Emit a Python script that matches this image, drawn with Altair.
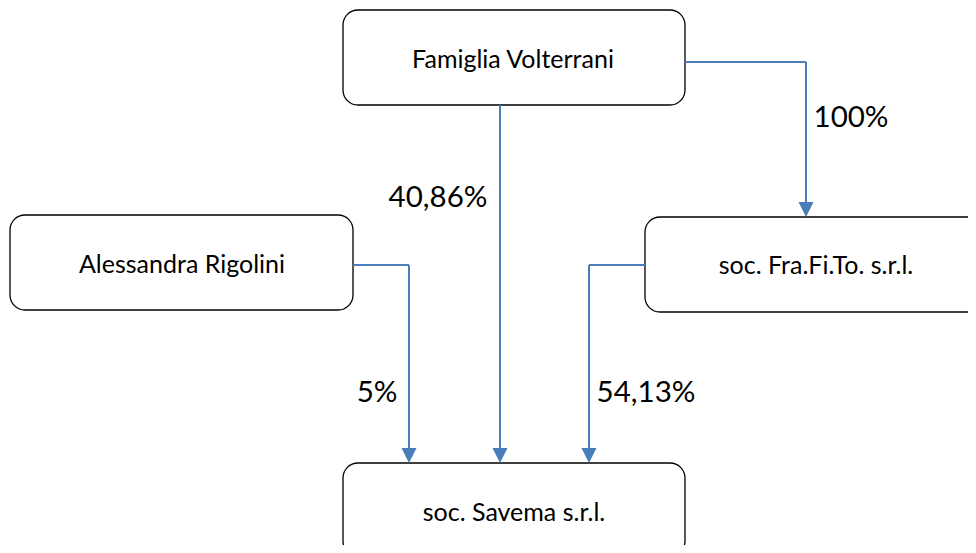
import altair as alt
import pandas as pd

# Boxes (entities)
box_labels = ["Famiglia Volterrani", "Alessandra Rigolini", "soc. Fra.Fi.To. s.r.l.", "soc. Savema s.r.l."]
box_x0 = [343, 10, 645, 343]
box_x1 = [685, 353, 988, 685]
box_y0 = [10, 215, 217, 463]
box_y1 = [105, 310, 312, 556]
text_x = [513, 182, 816, 514]
text_y = [60, 265, 266, 513]

# Connector segments
seg_x0 = [500, 685, 806, 353, 409, 645, 589]
seg_x1 = [500, 806, 806, 409, 409, 589, 589]
seg_y0 = [105, 62, 62, 265, 265, 265, 265]
seg_y1 = [456, 62, 210, 265, 456, 265, 456]

# Arrow tips
tip_x = [500, 806, 409, 589]
tip_y = [463, 217, 463, 463]

# Ownership percentages
pct_labels = ["40,86%", "100%", "5%", "54,13%"]
pct_x = [438, 851, 377, 646]
pct_y = [198, 118, 393, 393]

boxes = pd.DataFrame({"label": box_labels, "x0": box_x0, "x1": box_x1,
                      "y0": box_y0, "y1": box_y1, "tx": text_x, "ty": text_y})
segs = pd.DataFrame({"x0": seg_x0, "x1": seg_x1, "y0": seg_y0, "y1": seg_y1})
tips = pd.DataFrame({"x": tip_x, "y": tip_y})
pcts = pd.DataFrame({"label": pct_labels, "x": pct_x, "y": pct_y})

xs = alt.Scale(domain=[8, 968], nice=False, zero=False)
ys = alt.Scale(domain=[545, 8], nice=False, zero=False)
BLUE = "#4A7EBB"
FONT = "Lato"

rects = alt.Chart(boxes).mark_rect(
    cornerRadius=15, fill="white", stroke="black", strokeWidth=1.3, clip=True
).encode(
    x=alt.X("x0:Q", scale=xs, axis=None), x2="x1:Q",
    y=alt.Y("y0:Q", scale=ys, axis=None), y2="y1:Q",
)

box_text = alt.Chart(boxes).mark_text(
    font=FONT, fontSize=25, color="black", align="center", baseline="middle"
).encode(
    x=alt.X("tx:Q", scale=xs, axis=None),
    y=alt.Y("ty:Q", scale=ys, axis=None),
    text="label:N",
)

lines = alt.Chart(segs).mark_rule(color=BLUE, strokeWidth=2).encode(
    x=alt.X("x0:Q", scale=xs, axis=None), x2="x1:Q",
    y=alt.Y("y0:Q", scale=ys, axis=None), y2="y1:Q",
)

heads = alt.Chart(tips).mark_point(
    shape="M-1,-2L1,-2L0,0Z", size=225, filled=True, fill=BLUE, color=BLUE,
    opacity=1, strokeWidth=0
).encode(
    x=alt.X("x:Q", scale=xs, axis=None),
    y=alt.Y("y:Q", scale=ys, axis=None),
)

pct_text = alt.Chart(pcts).mark_text(
    font=FONT, fontSize=29.5, color="black", align="center", baseline="middle"
).encode(
    x=alt.X("x:Q", scale=xs, axis=None),
    y=alt.Y("y:Q", scale=ys, axis=None),
    text="label:N",
)

chart = alt.layer(rects, lines, heads, box_text, pct_text).properties(
    width=960, height=537, padding=0,
    autosize=alt.AutoSizeParams(type="none"),
    background="white",
).configure_view(stroke=None)

chart.save("out.html", embed_options={"renderer": "svg", "actions": False})
